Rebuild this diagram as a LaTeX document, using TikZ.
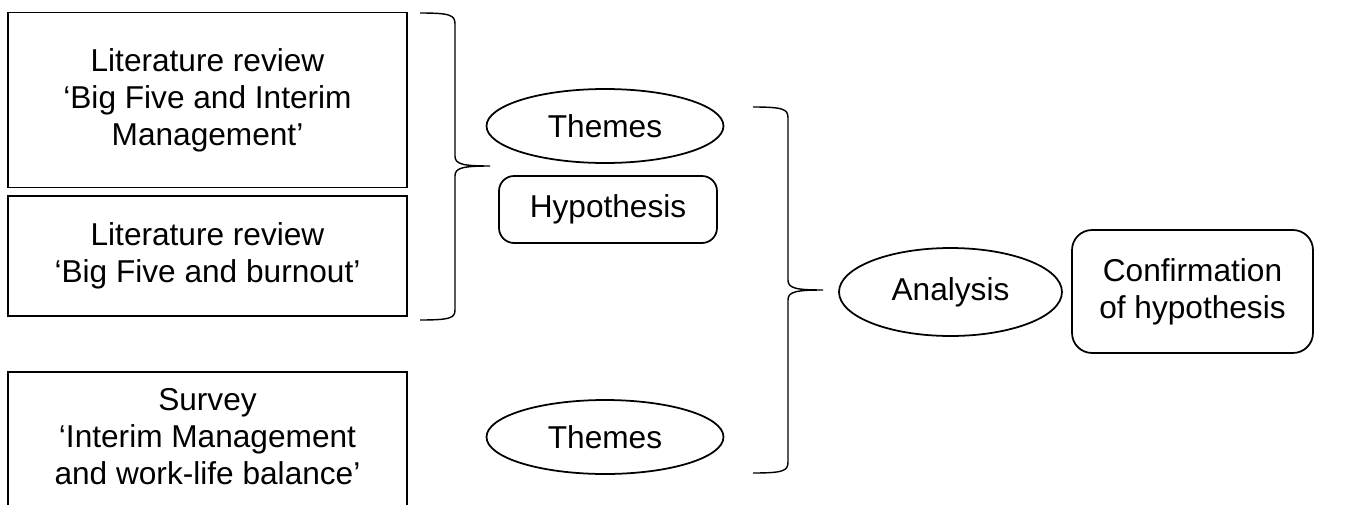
\documentclass[tikz,border=0pt]{standalone}
\usepackage{fontspec}
\setmainfont{Liberation Sans}
\usetikzlibrary{shapes.geometric}
\tikzset{
  every node/.style={font=\fontsize{18}{21}\selectfont, inner sep=0pt},
  litbox/.style={draw, line width=1pt, minimum width=7.98cm, align=center},
  themebox/.style={draw, ellipse, line width=1pt, minimum width=4.74cm, minimum height=1.48cm},
  roundbox/.style={draw, line width=1pt, rounded corners=0.3cm, align=center},
  bracepath/.style={line width=0.8pt}
}
\begin{document}
\begin{tikzpicture}[x=0.02cm, y=-0.02cm]
        \useasboundingbox (0,0) rectangle (1346,504);
        % linke Spalte
        \node[litbox, minimum height=3.5cm] (litbig) at (207.5,100)
            {Literature review\\`Big Five and Interim\\Management'};
        \node[litbox, minimum height=2.4cm] (litburn) at (207.5,256)
            {Literature review\\`Big Five and burnout'};
        \node[litbox, minimum height=2.8cm, anchor=north] (survey) at (207.5,371) {};
        \node[align=center] (surveytext) at (207.5,437)
            {Survey\\`Interim Management\\and work-life balance'};
        % mittlere Spalte
        \node[themebox] (themesa) at (605,126) {Themes};
        \node[roundbox, minimum width=4.36cm, minimum height=1.34cm] (hypo) at (608,209.5) {Hypothesis};
        \node[themebox] (themesb) at (605,437) {Themes};
        % rechte Spalte
        \node[themebox, minimum width=4.46cm, minimum height=1.76cm] (analysis) at (950.5,292) {Analysis};
        \node[roundbox, rounded corners=0.4cm, minimum width=4.82cm, minimum height=2.46cm] (confirm) at (1192.5,291.5)
            {Confirmation\\of hypothesis};
        % Klammern
        \coordinate (bracea) at (490,166);
        \coordinate (braceb) at (823,290);
        \draw[bracepath] (420,13) .. controls (450,13) and (455,15) .. (455,24) -- (455,156)
            .. controls (455,164) and (462,166) .. (bracea)
            .. controls (462,166) and (455,168) .. (455,176) -- (455,310)
            .. controls (455,318) and (450,320) .. (420,320);
        \draw[bracepath] (753,107) .. controls (783,107) and (788,109) .. (788,118) -- (788,280)
            .. controls (788,288) and (795,290) .. (braceb)
            .. controls (795,290) and (788,292) .. (788,300) -- (788,462)
            .. controls (788,471) and (783,473) .. (753,473);
    \end{tikzpicture}
\end{document}
